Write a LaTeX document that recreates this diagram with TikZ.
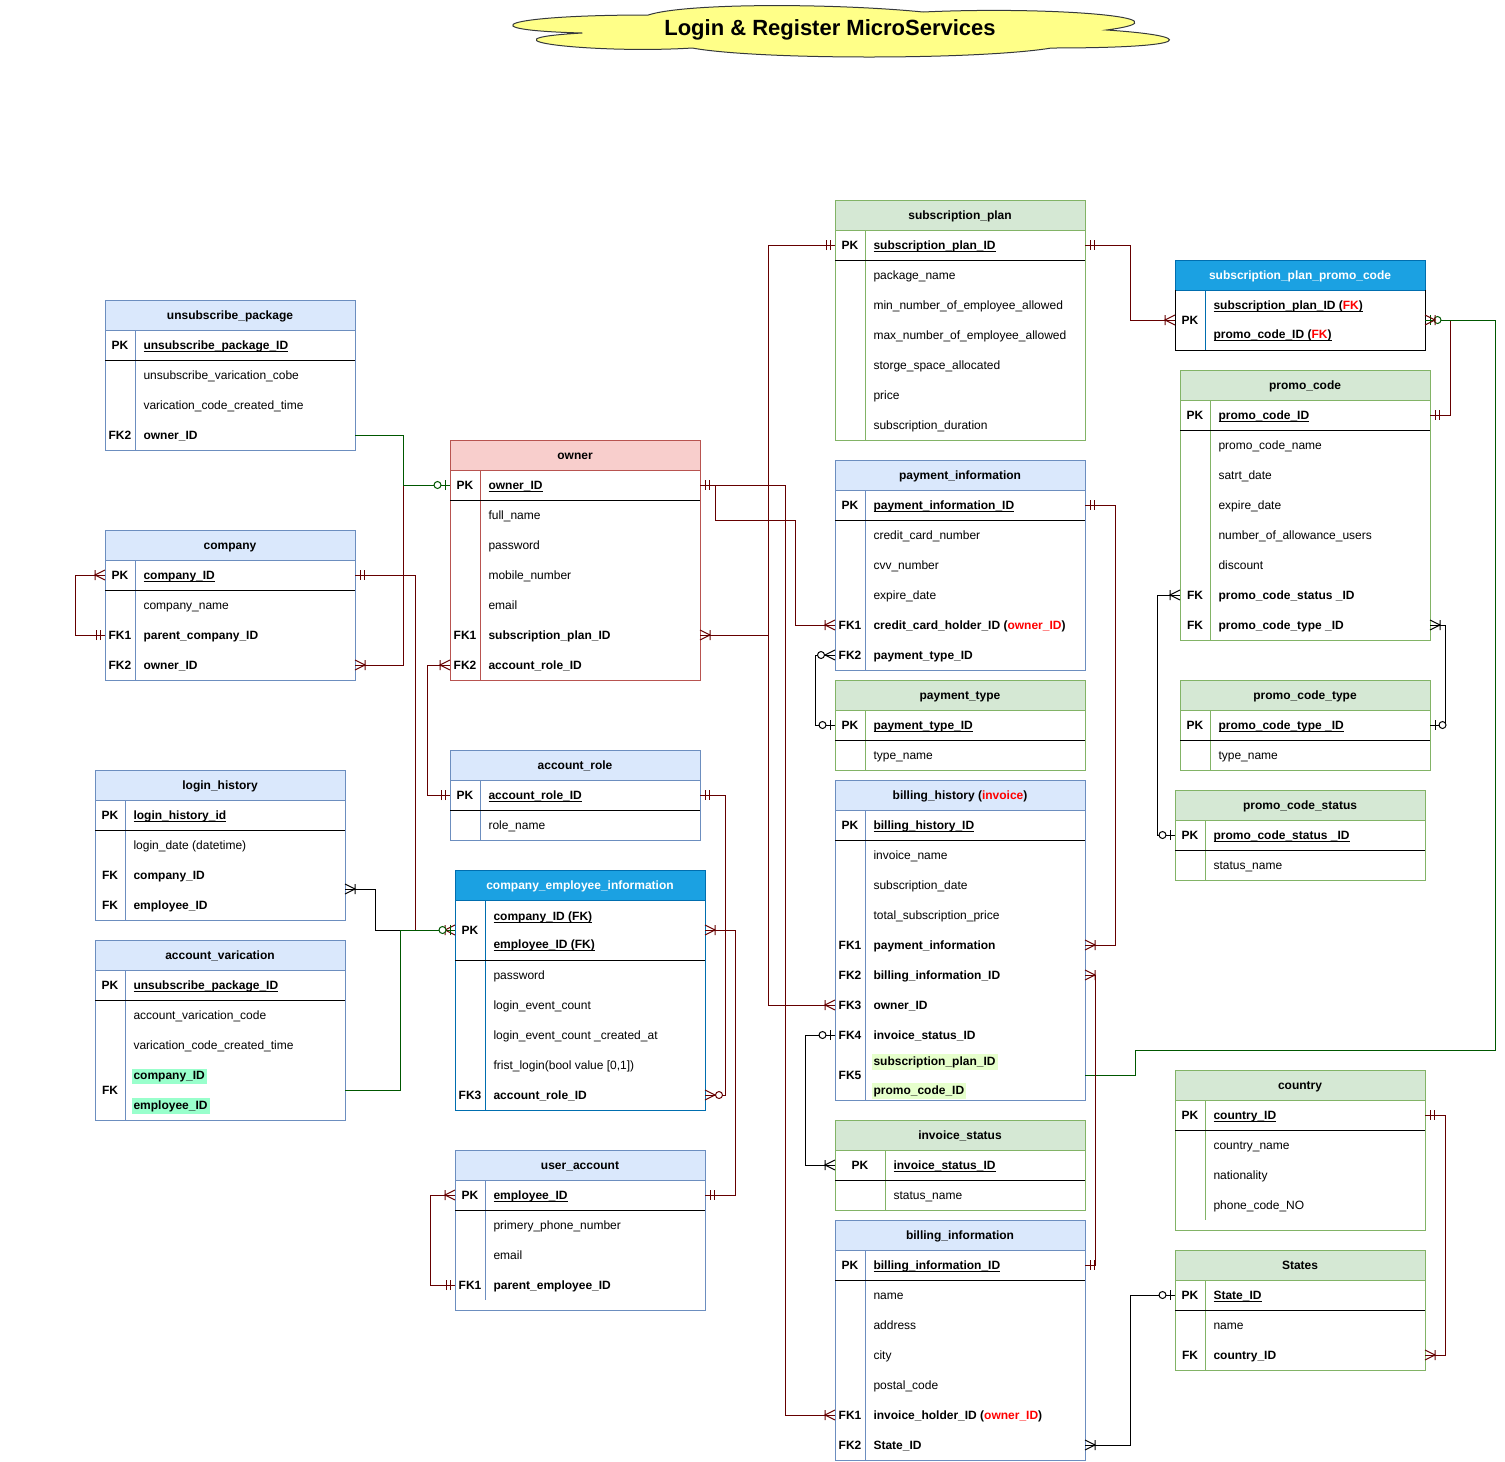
\documentclass[tikz,border=0pt]{standalone}
\usepackage{fontspec}
\setmainfont{Liberation Sans}
\usetikzlibrary{calc}
\definecolor{bfill}{HTML}{DAE8FC}\definecolor{bline}{HTML}{6C8EBF}
\definecolor{gfill}{HTML}{D5E8D4}\definecolor{gline}{HTML}{82B366}
\definecolor{rfill}{HTML}{F8CECC}\definecolor{rline}{HTML}{B85450}
\definecolor{cfill}{HTML}{1BA1E2}\definecolor{cline}{HTML}{006EAF}
\definecolor{dred}{HTML}{660000}\definecolor{dgreen}{HTML}{005700}
\definecolor{hlmint}{HTML}{99FFCC}\definecolor{hllime}{HTML}{E6FFCC}
\definecolor{cloudfill}{HTML}{FFFF88}\definecolor{cloudline}{HTML}{36393D}
\definecolor{fkred}{HTML}{FF0000}
\newcommand\uln[1]{\setbox0=\hbox{#1}\leavevmode\rlap{\rule[-1.8pt]{\wd0}{0.55pt}}\box0}
\newcommand\hlt[2]{{\fboxsep=1.5pt\hspace*{-1.5pt}\colorbox{#1}{#2}}}
\newcommand\tbox[9]{%
 \def\tx{#2}\def\tw{#4}\def\tk{#9}%
 \fill[#6] (#2,#3) rectangle (#2+#4,#3+30);%
 \draw[#7] (#2,#3) rectangle (#2+#4,#3+#5);%
 \draw[#7] (#2,#3+30) -- (#2+#4,#3+30);%
 \node[ttl] (#1) at (#2+#4/2,#3+19) {#8};}
\newcommand\tdiv[3]{\draw[#1] (\tx+\tk,#2) -- (\tx+\tk,#3);}
\newcommand\trow[4]{%
 \node[kst] (#1k) at (\tx+\tk/2,#2+4) {#3};%
 \node[ast] (#1) at (\tx+\tk+8,#2+4) {#4};%
 \coordinate (#1-l) at (\tx,#2);\coordinate (#1-r) at (\tx+\tw,#2);}
\newcommand\tkey[3]{%
 \node[kst] (#1) at (\tx+\tk/2,#2+4) {#3};%
 \coordinate (#1-l) at (\tx,#2);\coordinate (#1-r) at (\tx+\tw,#2);}
\newcommand\tsep[1]{\draw[black] (\tx,#1) -- (\tx+\tw,#1);}
\tikzset{
 ast/.style={anchor=base west,inner sep=0pt,font=\fontsize{9}{11}\selectfont},
 kst/.style={anchor=base,inner sep=0pt,font=\fontsize{9}{11}\selectfont\bfseries},
 ttl/.style={anchor=base,inner sep=0pt,font=\fontsize{9}{11}\selectfont\bfseries},
 cr/.style={color=dred},cg/.style={color=dgreen},ck/.style={color=black},
 mone/.pic={\draw (5,-5) -- (5,5) (9,-5) -- (9,5);},
 zone/.pic={\draw (5,-5) -- (5,5); \draw[fill=white] (12.5,0) circle[radius=3.5];},
 omany/.pic={\draw (0,-5) -- (10,0) -- (0,5) (10,-5) -- (10,5);},
 zmany/.pic={\draw (0,-5) -- (10,0) -- (0,5); \draw[fill=white] (14,0) circle[radius=3.5];},
}
\begin{document}
\begin{tikzpicture}[x=0.75pt,y=-0.75pt,line width=0.75pt]
\fill[white] (0,0) rectangle (1505,1461);
\useasboundingbox (0,0) rectangle (1505,1461);
% title cloud
\filldraw[fill=cloudfill,draw=cloudline] (648.25,15) .. controls (501.65,15) and (465,30) .. (582.3,33) .. controls (465,39.6) and (596.9,54) .. (692.2,48) .. controls (758.2,60) and (978.1,60) .. (1051.4,48) .. controls (1198,48) and (1198,36) .. (1106.4,30) .. controls (1198,18) and (1051.4,6) .. (923.1,12) .. controls (831.5,3) and (684.9,3) .. (648.25,15) -- cycle;
\node[font=\fontsize{16.5}{19}\selectfont\bfseries] (title) at (830,30) {Login \& Register MicroServices};

% unsubscribe_package
\tbox{up}{105}{300}{250}{150}{bfill}{bline}{unsubscribe\_package}{30}
\tdiv{bline}{330}{450}
\trow{up1}{345}{PK}{\uln{\textbf{unsubscribe\_package\_ID}}}
\tsep{360}
\trow{up2}{375}{}{unsubscribe\_varication\_cobe}
\trow{up3}{405}{}{varication\_code\_created\_time}
\trow{up4}{435}{FK2}{\textbf{owner\_ID}}
% company
\tbox{co}{105}{530}{250}{150}{bfill}{bline}{company}{30}
\tdiv{bline}{560}{680}
\trow{co1}{575}{PK}{\uln{\textbf{company\_ID}}}
\tsep{590}
\trow{co2}{605}{}{company\_name}
\trow{co3}{635}{FK1}{\textbf{parent\_company\_ID}}
\trow{co4}{665}{FK2}{\textbf{owner\_ID}}
% owner
\tbox{ow}{450}{440}{250}{240}{rfill}{rline}{owner}{30}
\tdiv{rline}{470}{680}
\trow{ow1}{485}{PK}{\uln{\textbf{owner\_ID}}}
\tsep{500}
\trow{ow2}{515}{}{full\_name}
\trow{ow3}{545}{}{password}
\trow{ow4}{575}{}{mobile\_number}
\trow{ow5}{605}{}{email}
\trow{ow6}{635}{FK1}{\textbf{subscription\_plan\_ID}}
\trow{ow7}{665}{FK2}{\textbf{account\_role\_ID}}
% account_role
\tbox{ar}{450}{750}{250}{90}{bfill}{bline}{account\_role}{30}
\tdiv{bline}{780}{840}
\trow{ar1}{795}{PK}{\uln{\textbf{account\_role\_ID}}}
\tsep{810}
\trow{ar2}{825}{}{role\_name}
% login_history
\tbox{lh}{95}{770}{250}{150}{bfill}{bline}{login\_history}{30}
\tdiv{bline}{800}{920}
\trow{lh1}{815}{PK}{\uln{\textbf{login\_history\_id}}}
\tsep{830}
\trow{lh2}{845}{}{login\_date (datetime)}
\trow{lh3}{875}{FK}{\textbf{company\_ID}}
\trow{lh4}{905}{FK}{\textbf{employee\_ID}}
\coordinate (lhc) at (345,889);
% account_varication
\tbox{av}{95}{940}{250}{180}{bfill}{bline}{account\_varication}{30}
\tdiv{bline}{970}{1120}
\trow{av1}{985}{PK}{\uln{\textbf{unsubscribe\_package\_ID}}}
\tsep{1000}
\trow{av2}{1015}{}{account\_varication\_code}
\trow{av3}{1045}{}{varication\_code\_created\_time}
\trow{av4}{1075}{}{\hlt{hlmint}{\textbf{company\_ID}}}
\trow{av5}{1105}{}{\hlt{hlmint}{\textbf{employee\_ID}}}
\tkey{avk}{1090}{FK}
% company_employee_information
\tbox{cei}{455}{870}{250}{240}{cfill}{cline}{\textcolor{white}{company\_employee\_information}}{30}
\tdiv{cline}{900}{1110}
\trow{cei1}{916}{}{\uln{\textbf{company\_ID (FK)}}}
\trow{cei2}{944}{}{\uln{\textbf{employee\_ID (FK)}}}
\tkey{ceipk}{930}{PK}
\tsep{960}
\trow{cei3}{975}{}{password}
\trow{cei4}{1005}{}{login\_event\_count}
\trow{cei5}{1035}{}{login\_event\_count \_created\_at}
\trow{cei6}{1065}{}{frist\_login(bool value [0,1])}
\trow{cei7}{1095}{FK3}{\textbf{account\_role\_ID}}
% user_account
\tbox{ua}{455}{1150}{250}{160}{bfill}{bline}{user\_account}{30}
\tdiv{bline}{1180}{1300}
\trow{ua1}{1195}{PK}{\uln{\textbf{employee\_ID}}}
\tsep{1210}
\trow{ua2}{1225}{}{primery\_phone\_number}
\trow{ua3}{1255}{}{email}
\trow{ua4}{1285}{FK1}{\textbf{parent\_employee\_ID}}
% subscription_plan
\tbox{sp}{835}{200}{250}{240}{gfill}{gline}{subscription\_plan}{30}
\tdiv{gline}{230}{440}
\trow{sp1}{245}{PK}{\uln{\textbf{subscription\_plan\_ID}}}
\tsep{260}
\trow{sp2}{275}{}{package\_name}
\trow{sp3}{305}{}{min\_number\_of\_employee\_allowed}
\trow{sp4}{335}{}{max\_number\_of\_employee\_allowed}
\trow{sp5}{365}{}{storge\_space\_allocated}
\trow{sp6}{395}{}{price}
\trow{sp7}{425}{}{subscription\_duration}
% payment_information
\tbox{pi}{835}{460}{250}{210}{bfill}{bline}{payment\_information}{30}
\tdiv{bline}{490}{670}
\trow{pi1}{505}{PK}{\uln{\textbf{payment\_information\_ID}}}
\tsep{520}
\trow{pi2}{535}{}{credit\_card\_number}
\trow{pi3}{565}{}{cvv\_number}
\trow{pi4}{595}{}{expire\_date}
\trow{pi5}{625}{FK1}{\textbf{credit\_card\_holder\_ID (\textcolor{fkred}{owner\_ID})}}
\trow{pi6}{655}{FK2}{\textbf{payment\_type\_ID}}
% payment_type
\tbox{pt}{835}{680}{250}{90}{gfill}{gline}{payment\_type}{30}
\tdiv{gline}{710}{770}
\trow{pt1}{725}{PK}{\uln{\textbf{payment\_type\_ID}}}
\tsep{740}
\trow{pt2}{755}{}{type\_name}
% billing_history
\tbox{bh}{835}{780}{250}{320}{bfill}{bline}{billing\_history (\textcolor{fkred}{invoice})}{30}
\tdiv{bline}{810}{1100}
\trow{bh1}{825}{PK}{\uln{\textbf{billing\_history\_ID}}}
\tsep{840}
\trow{bh2}{855}{}{invoice\_name}
\trow{bh3}{885}{}{subscription\_date}
\trow{bh4}{915}{}{total\_subscription\_price}
\trow{bh5}{945}{FK1}{\textbf{payment\_information}}
\trow{bh6}{975}{FK2}{\textbf{billing\_information\_ID}}
\trow{bh7}{1005}{FK3}{\textbf{owner\_ID}}
\trow{bh8}{1035}{FK4}{\textbf{invoice\_status\_ID}}
\trow{bh9}{1061}{}{\hlt{hllime}{\textbf{subscription\_plan\_ID}}}
\trow{bh10}{1090}{}{\hlt{hllime}{\textbf{promo\_code\_ID}}}
\tkey{bhk}{1075}{FK5}
% invoice_status
\tbox{is}{835}{1120}{250}{90}{gfill}{gline}{invoice\_status}{50}
\tdiv{gline}{1150}{1210}
\trow{is1}{1165}{PK}{\uln{\textbf{invoice\_status\_ID}}}
\tsep{1180}
\trow{is2}{1195}{}{status\_name}
% billing_information
\tbox{bi}{835}{1220}{250}{240}{bfill}{bline}{billing\_information}{30}
\tdiv{bline}{1250}{1460}
\trow{bi1}{1265}{PK}{\uln{\textbf{billing\_information\_ID}}}
\tsep{1280}
\trow{bi2}{1295}{}{name}
\trow{bi3}{1325}{}{address}
\trow{bi4}{1355}{}{city}
\trow{bi5}{1385}{}{postal\_code}
\trow{bi6}{1415}{FK1}{\textbf{invoice\_holder\_ID (\textcolor{fkred}{owner\_ID})}}
\trow{bi7}{1445}{FK2}{\textbf{State\_ID}}
% subscription_plan_promo_code
\tbox{sppc}{1175}{260}{250}{90}{cfill}{cline}{\textcolor{white}{subscription\_plan\_promo\_code}}{30}
\draw[black] (1175,290) -- (1175,350) -- (1425,350) -- (1425,290);
\tdiv{cline}{290}{350}
\trow{sppc1}{305}{}{\uln{\textbf{subscription\_plan\_ID (\textcolor{fkred}{FK})}}}
\trow{sppc2}{334}{}{\uln{\textbf{promo\_code\_ID (\textcolor{fkred}{FK})}}}
\tkey{sppc}{320}{PK}
% promo_code
\tbox{pc}{1180}{370}{250}{270}{gfill}{gline}{promo\_code}{30}
\tdiv{gline}{400}{640}
\trow{pc1}{415}{PK}{\uln{\textbf{promo\_code\_ID}}}
\tsep{430}
\trow{pc2}{445}{}{promo\_code\_name}
\trow{pc3}{475}{}{satrt\_date}
\trow{pc4}{505}{}{expire\_date}
\trow{pc5}{535}{}{number\_of\_allowance\_users}
\trow{pc6}{565}{}{discount}
\trow{pc7}{595}{FK}{\textbf{promo\_code\_status \_ID}}
\trow{pc8}{625}{FK}{\textbf{promo\_code\_type \_ID}}
% promo_code_type
\tbox{pct}{1180}{680}{250}{90}{gfill}{gline}{promo\_code\_type}{30}
\tdiv{gline}{710}{770}
\trow{pct1}{725}{PK}{\uln{\textbf{promo\_code\_type \_ID}}}
\tsep{740}
\trow{pct2}{755}{}{type\_name}
% promo_code_status
\tbox{pcs}{1175}{790}{250}{90}{gfill}{gline}{promo\_code\_status}{30}
\tdiv{gline}{820}{880}
\trow{pcs1}{835}{PK}{\uln{\textbf{promo\_code\_status \_ID}}}
\tsep{850}
\trow{pcs2}{865}{}{status\_name}
% country
\tbox{cn}{1175}{1070}{250}{160}{gfill}{gline}{country}{30}
\tdiv{gline}{1100}{1220}
\trow{cn1}{1115}{PK}{\uln{\textbf{country\_ID}}}
\tsep{1130}
\trow{cn2}{1145}{}{country\_name}
\trow{cn3}{1175}{}{nationality}
\trow{cn4}{1205}{}{phone\_code\_NO}
% States
\tbox{st}{1175}{1250}{250}{120}{gfill}{gline}{States}{30}
\tdiv{gline}{1280}{1370}
\trow{st1}{1295}{PK}{\uln{\textbf{State\_ID}}}
\tsep{1310}
\trow{st2}{1325}{}{name}
\trow{st3}{1355}{FK}{\textbf{country\_ID}}

% ---------- connectors ----------
\draw[cr] (co4-r) -- ++(48,0) |- (ow1-l);
\draw[cg] (up4-r) -- ++(48,0) |- (ow1-l);
\draw[cr] (co1-r) -- ++(60,0) |- (ceipk-l);
\draw[ck] (lhc) -- ++(30,0) |- (ceipk-l);
\draw[cg] (avk-r) -- ++(55,0) |- (ceipk-l);
\draw[cr] (ow7-l) -- ++(-23,0) |- (ar1-l);
\draw[cr] (ow1-r) -- ++(15,0) -- ++(0,35) -- ++(80,0) |- (pi5-l);
\draw[cr] (ow1-r) -- ++(85,0) |- (bi6-l);
\draw[cr] (ow6-r) -- ++(68,0) |- (sp1-l);
\draw[cr] (ow1-r) -- ++(68,0) |- (bh7-l);
\draw[cr] (sp1-r) -- ++(45,0) |- (sppc-l);
\draw[cr] (pc1-r) -- ++(20,0) |- (sppc-r);
\draw[cg] (bhk-r) -- ++(50,0) -- ++(0,-25) -- ++(360,0) |- (sppc-r);
\draw[ck] (pc7-l) -- ++(-23,0) |- (pcs1-l);
\draw[ck] (pc8-r) -- ++(15,0) |- (pct1-r);
\draw[ck] (pi6-l) -- ++(-20,0) |- (pt1-l);
\draw[cr] (pi1-r) -- ++(30,0) |- (bh5-r);
\draw[cr] (bi1-r) -- ++(10,0) |- (bh6-r);
\draw[ck] (bh8-l) -- ++(-30,0) |- (is1-l);
\draw[cr] (ar1-r) -- ++(25,0) |- (cei7-r);
\draw[cr] (ceipk-r) -- ++(30,0) |- (ua1-r);
\draw[cr] (ua1-l) -- ++(-25,0) |- (ua4-l);
\draw[cr] (co1-l) -- ++(-30,0) |- (co3-l);
\draw[ck] (bi7-r) -- ++(45,0) |- (st1-l);
\draw[cr] (cn1-r) -- ++(20,0) |- (st3-r);

% ---------- end markers ----------
\pic[cr] at (co4-r) {omany};
\pic[cg,rotate=180] at (ow1-l) {zone};
\pic[cr] at (co1-r) {mone};
\pic[cr,rotate=180] at (ceipk-l) {omany};
\pic[ck] at (lhc) {omany};
\pic[cg,rotate=180] at (ceipk-l) {zone};
\pic[cr,rotate=180] at (ow7-l) {omany};
\pic[cr,rotate=180] at (ar1-l) {mone};
\pic[cr] at (ow1-r) {mone};
\pic[cr,rotate=180] at (pi5-l) {omany};
\pic[cr,rotate=180] at (bi6-l) {omany};
\pic[cr] at (ow6-r) {omany};
\pic[cr,rotate=180] at (sp1-l) {mone};
\pic[cr,rotate=180] at (bh7-l) {omany};
\pic[cr] at (sp1-r) {mone};
\pic[cr,rotate=180] at (sppc-l) {omany};
\pic[cg] at (sppc-r) {zone};
\pic[cr] at (sppc-r) {omany};
\pic[cr] at (pc1-r) {mone};
\pic[ck,rotate=180] at (pc7-l) {omany};
\pic[ck,rotate=180] at (pcs1-l) {zone};
\pic[ck] at (pc8-r) {omany};
\pic[ck] at (pct1-r) {zone};
\pic[ck,rotate=180] at (pi6-l) {zmany};
\pic[ck,rotate=180] at (pt1-l) {zone};
\pic[cr] at (pi1-r) {mone};
\pic[cr] at (bh5-r) {omany};
\pic[cr] at (bi1-r) {mone};
\pic[cr] at (bh6-r) {omany};
\pic[ck,rotate=180] at (bh8-l) {zone};
\pic[ck,rotate=180] at (is1-l) {omany};
\pic[cr] at (ar1-r) {mone};
\pic[cr] at (cei7-r) {zmany};
\pic[cr] at (ceipk-r) {omany};
\pic[cr] at (ua1-r) {mone};
\pic[cr,rotate=180] at (ua1-l) {omany};
\pic[cr,rotate=180] at (ua4-l) {mone};
\pic[cr,rotate=180] at (co1-l) {omany};
\pic[cr,rotate=180] at (co3-l) {mone};
\pic[ck] at (bi7-r) {omany};
\pic[ck,rotate=180] at (st1-l) {zone};
\pic[cr] at (cn1-r) {mone};
\pic[cr] at (st3-r) {omany};
\end{tikzpicture}
\end{document}
